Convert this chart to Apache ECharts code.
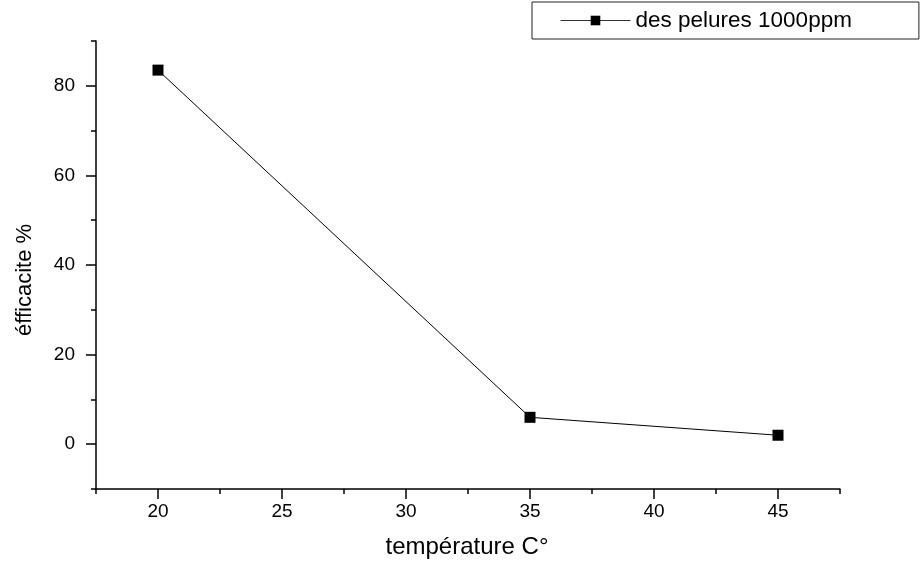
<!DOCTYPE html>
<html>
<head>
<meta charset="utf-8">
<script src="https://cdn.jsdelivr.net/npm/echarts@6/dist/echarts.min.js"></script>
<style>html,body{margin:0;padding:0;background:#fff}#c{width:922px;height:566px}</style>
</head>
<body>
<div id="c"></div>
<script>
const temperatures = [20, 35, 45];
const efficacite = [83.5, 6.0, 2.0];
const seriesName = 'des pelures 1000ppm';
const xTitle = 'température C°';
const yTitle = 'éfficacite %';

const chart = echarts.init(document.getElementById('c'));
const font = 'Liberation Sans, Arial, sans-serif';
const black = '#000';
const data = temperatures.map((t, i) => [t, efficacite[i]]);

chart.setOption({
  animation: false,
  backgroundColor: '#fff',
  legend: {
    left: 532, top: 2,
    borderColor: '#222', borderWidth: 1,
    padding: [7, 67, 7, 28],
    itemWidth: 70, itemHeight: 12, itemGap: 7,
    lineStyle: { width: 1, color: '#333' },
    textStyle: { fontFamily: font, fontSize: 22.5, color: black },
    data: [seriesName]
  },
  graphic: [
    { type: 'text', x: 467, y: 547,
      style: { text: xTitle, fontFamily: font, fontSize: 24, fill: black, textAlign: 'center', textVerticalAlign: 'middle' } },
    { type: 'text', x: 25, y: 280, rotation: Math.PI / 2,
      style: { text: yTitle, fontFamily: font, fontSize: 22, fill: black, textAlign: 'center', textVerticalAlign: 'middle' } }
  ],
  grid: [
    { left: 96, right: 82, top: 41, bottom: 77, containLabel: false },
    { left: 158, right: 144, top: 86, bottom: 122, containLabel: false }
  ],
  xAxis: [
    { gridIndex: 0, type: 'value', min: 17.5, max: 47.5, interval: 2.5,
      axisLine: { onZero: false, lineStyle: { color: black, width: 1.5 } },
      axisTick: { length: 5, lineStyle: { color: black, width: 1.5 } },
      axisLabel: { show: false }, splitLine: { show: false } },
    { gridIndex: 1, type: 'value', min: 20, max: 45, interval: 5, offset: 45,
      axisLine: { show: false, onZero: false },
      axisTick: { length: 10, lineStyle: { color: black, width: 1.5 } },
      axisLabel: { fontFamily: font, fontSize: 19, color: black, margin: 13 },
      splitLine: { show: false } }
  ],
  yAxis: [
    { gridIndex: 0, type: 'value', min: -10, max: 90, interval: 10,
      axisLine: { onZero: false, lineStyle: { color: black, width: 1.5 } },
      axisTick: { length: 5, lineStyle: { color: black, width: 1.5 } },
      axisLabel: { show: false }, splitLine: { show: false } },
    { gridIndex: 1, type: 'value', min: 0, max: 80, interval: 20, offset: 62,
      axisLine: { show: false, onZero: false },
      axisTick: { length: 10, lineStyle: { color: black, width: 1.5 } },
      axisLabel: { fontFamily: font, fontSize: 19, color: black, margin: 21 },
      splitLine: { show: false } }
  ],
  series: [{
    name: seriesName, type: 'line', xAxisIndex: 0, yAxisIndex: 0,
    data: data, symbol: 'rect', symbolSize: 11,
    lineStyle: { color: black, width: 1 },
    itemStyle: { color: black },
    emphasis: { disabled: true }
  }]
});
</script>
</body>
</html>
